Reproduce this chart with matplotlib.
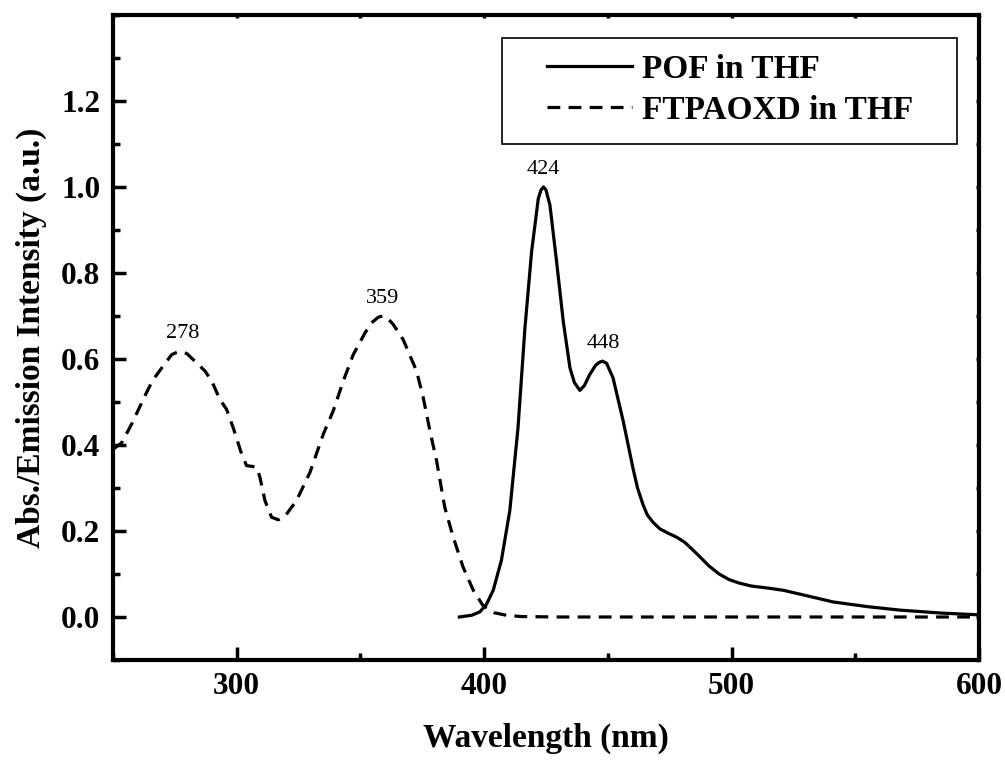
import numpy as np
import matplotlib
matplotlib.use("Agg")
import matplotlib.pyplot as plt
from matplotlib.patches import Rectangle
from matplotlib.ticker import MultipleLocator

# POF in THF (emission)
pof_wl = [390, 395, 398.3, 401, 403.7, 407, 410.4, 413.7, 416.5, 419.2, 421.9,
          423, 424, 425, 426.6, 429.3, 432, 434.7, 436.5, 438.7, 440.5, 442.7, 445,
          446.5, 447.8, 449.5, 452.1, 456.2, 460.2, 462, 464.3, 466, 468.3, 471, 474, 478,
          481, 484, 487.2, 491, 495, 499, 503, 508, 515, 521, 530, 541, 555, 568,
          585, 600]
pof_val = [0.0, 0.004, 0.012, 0.03, 0.0625, 0.132, 0.248, 0.44, 0.672, 0.85, 0.973,
           0.993, 1.0, 0.993, 0.958, 0.826, 0.687, 0.579, 0.545, 0.527, 0.538, 0.564, 0.585,
           0.592, 0.595, 0.59, 0.556, 0.456, 0.345, 0.30, 0.26, 0.237, 0.22, 0.205, 0.196, 0.185,
           0.174, 0.158, 0.14, 0.118, 0.1, 0.087, 0.079, 0.072, 0.067, 0.062, 0.05, 0.035,
           0.024, 0.016, 0.009, 0.005]

# FTPAOXD in THF (absorption)
abs_wl = [250, 253.5, 257.5, 262.9, 266, 269.7, 273.7, 276, 278, 280, 281.8, 287.2, 289.9,
          293.2, 295.9, 298.6, 302, 304, 306.5, 308.1, 309.4, 311.4, 314.1, 316.8,
          319.5, 324.2, 329.6, 335, 339, 343.1, 347.1, 351.8, 354.5, 357.2, 359,
          360.6, 363.2, 367.3, 372.7, 375.4, 378.1, 380.8, 384.1, 387.5, 391.5,
          395.6, 399.6, 404, 409, 415, 430, 460, 500, 550, 600]
abs_val = [0.39, 0.405, 0.448, 0.514, 0.55, 0.579, 0.61, 0.616, 0.617, 0.612, 0.602, 0.572, 0.549,
           0.506, 0.483, 0.44, 0.379, 0.352, 0.35, 0.348, 0.325, 0.271, 0.232, 0.226,
           0.234, 0.271, 0.336, 0.425, 0.479, 0.549, 0.61, 0.66, 0.684, 0.697, 0.70,
           0.697, 0.681, 0.645, 0.572, 0.51, 0.433, 0.363, 0.255, 0.186, 0.116,
           0.0625, 0.026, 0.01, 0.004, 0.001, 0.0, 0.0, 0.0, 0.0, 0.0]

peak_wl = [278, 359, 424, 448]
peak_val = [0.617, 0.70, 1.0, 0.595]

plt.rcParams['font.family'] = ['Liberation Serif', 'DejaVu Serif']

fig = plt.figure(figsize=(10.05, 7.6), dpi=100)
ax = fig.add_axes([0.1124, 0.1316, 0.8617, 0.8487])

ax.plot(pof_wl, pof_val, color='black', lw=2.3, label='POF in THF')
ax.plot(abs_wl, abs_val, color='black', lw=2.3, ls=(0, (4, 2.6)),
        label='FTPAOXD in THF')

for w, v in zip(peak_wl, peak_val):
    ax.annotate(str(w), (w, v), xytext=(0, 6), textcoords='offset points',
                ha='center', va='bottom', fontsize=16)

ax.set_xlim(250, 600)
ax.set_ylim(-0.1, 1.4)
ax.xaxis.set_major_locator(MultipleLocator(100))
ax.xaxis.set_minor_locator(MultipleLocator(50))
ax.yaxis.set_minor_locator(MultipleLocator(0.1))
ax.set_yticks([0.0, 0.2, 0.4, 0.6, 0.8, 1.0, 1.2])
ax.set_yticklabels(['0.0', '0.2', '0.4', '0.6', '0.8', '1.0', '1.2'])
ax.set_xticks([300, 400, 500, 600])

ax.xaxis.set_ticks_position('both')
ax.yaxis.set_ticks_position('both')
ax.tick_params(which='major', direction='in', length=9.5, width=2.5,
               labelsize=22.5, pad=9)
ax.tick_params(which='minor', direction='in', length=5, width=2.5)
ax.tick_params(which='both', labeltop=False, labelright=False)
for t in ax.get_xticklabels() + ax.get_yticklabels():
    t.set_fontweight('bold')
for s in ax.spines.values():
    s.set_linewidth(3)
# tiny mirror ticks on top and right
for tl in ax.xaxis.get_ticklines(minor=False)[1::2] + ax.yaxis.get_ticklines(minor=False)[1::2]:
    tl.set_markersize(2)
for tl in ax.xaxis.get_ticklines(minor=True)[1::2] + ax.yaxis.get_ticklines(minor=True)[1::2]:
    tl.set_markersize(2)

ax.set_xlabel('Wavelength (nm)', fontsize=24, fontweight='bold', labelpad=15)
ax.set_ylabel('Abs./Emission Intensity (a.u.)', fontsize=24, fontweight='bold',
              labelpad=10)

leg = ax.legend(loc='upper left', bbox_to_anchor=(0.501, 0.94), frameon=False,
                prop={'size': 24, 'weight': 'bold'}, handlelength=2.55,
                handletextpad=0.3, borderpad=0, borderaxespad=0,
                labelspacing=0.3)
ax.add_patch(Rectangle((0.449, 0.80), 0.526, 0.164, transform=ax.transAxes,
                       fill=False, edgecolor='black', lw=1.2, zorder=5))

fig.savefig('out.png', dpi=100)
